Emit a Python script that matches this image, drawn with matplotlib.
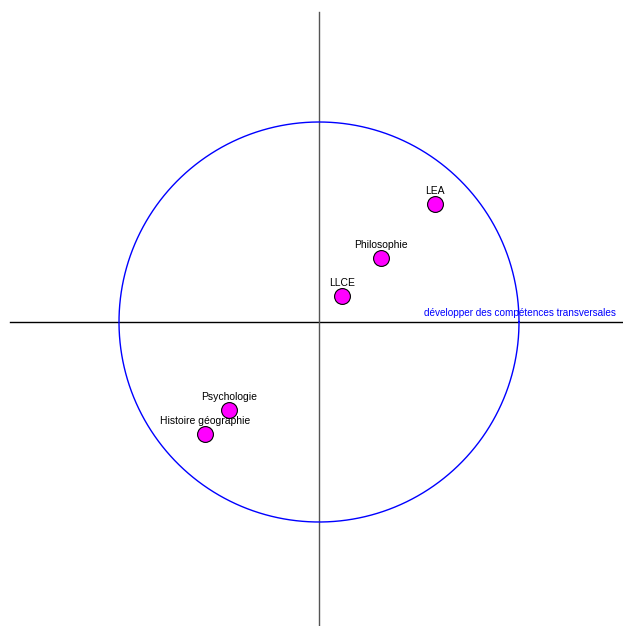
import matplotlib
matplotlib.use("Agg")
import matplotlib.pyplot as plt
import numpy as np

plt.rcParams['font.family'] = ['Liberation Sans', 'DejaVu Sans']

labels = ["LEA", "Philosophie", "LLCE", "Psychologie", "Histoire géographie"]
x_vals = [0.58, 0.31, 0.115, -0.45, -0.57]
y_vals = [0.59, 0.32, 0.13, -0.44, -0.56]
axis_label = "développer des compétences transversales"

fig = plt.figure(figsize=(6.23, 6.26), dpi=100)
ax = fig.add_axes([0, 0, 1, 1])
ax.set_xlim(-1.595, 1.52)
ax.set_ylim(-1.52, 1.61)
ax.set_aspect('equal', adjustable='box')
ax.axis('off')

ax.plot([-1.545, 1.52], [0, 0], color='black', lw=1.0)
ax.plot([0, 0], [1.55, -1.52], color='#555555', lw=1.0)

t = np.linspace(0, 2 * np.pi, 400)
ax.plot(np.cos(t), np.sin(t), color='blue', lw=1.0)

ax.scatter(x_vals, y_vals, s=130, color='magenta', edgecolor='black', linewidth=0.8, zorder=5)
for lab, x, y in zip(labels, x_vals, y_vals):
    ax.annotate(lab, (x, y), xytext=(0, 6), textcoords='offset points',
                ha='center', va='bottom', fontsize=7.5, color='black', zorder=6)

ax.text(1.485, 0.022, axis_label, ha='right', va='bottom', fontsize=7.2, color='blue')

fig.savefig("out.png", dpi=100)
